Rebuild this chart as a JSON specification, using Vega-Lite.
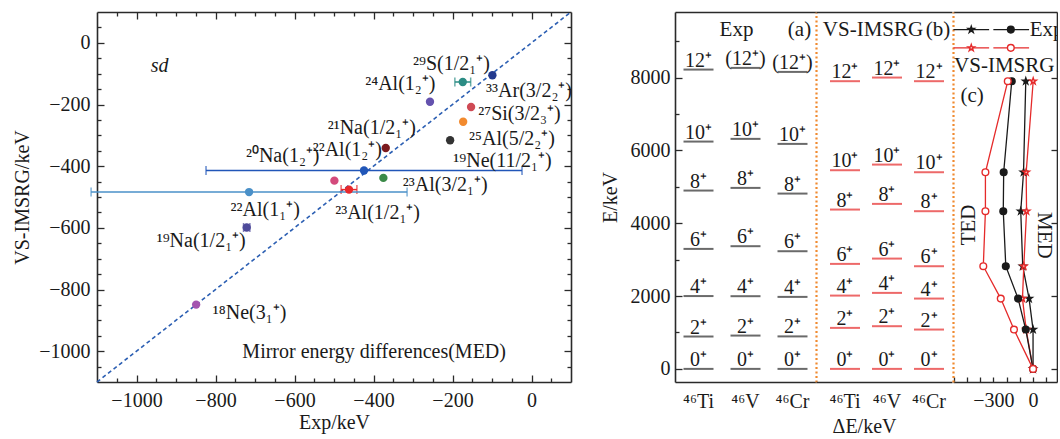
{
"$schema": "https://vega.github.io/schema/vega-lite/v6.json",
"padding": {"left": 12, "top": 8, "right": 0, "bottom": 0},
"spacing": 0,
"datasets": {
"med": [
{"id":"33Ar","x":-99,"y":-105,"err":0},
{"id":"29S","x":-174,"y":-127,"err":20},
{"id":"24Al","x":-257,"y":-191,"err":0},
{"id":"27Si","x":-153,"y":-208,"err":0},
{"id":"25Al","x":-173,"y":-256,"err":0},
{"id":"19Ne","x":-206,"y":-316,"err":0},
{"id":"21Na","x":-369,"y":-341,"err":0},
{"id":"20Na","x":-424,"y":-414,"err":400},
{"id":"23Al_3/2","x":-375,"y":-438,"err":0},
{"id":"22Al_12","x":-499,"y":-447,"err":0},
{"id":"22Al_11","x":-715,"y":-484,"err":400},
{"id":"23Al_1/2","x":-462,"y":-476,"err":20},
{"id":"19Na","x":-721,"y":-599,"err":8},
{"id":"18Ne","x":-849,"y":-849,"err":0}
],
"lab": [
{"t":"²⁹S(1/2₁⁺)","lx":-300,"ly":-70},
{"t":"²⁴Al(1₂⁺)","lx":-421,"ly":-135},
{"t":"³³Ar(3/2₂⁺)","lx":-115,"ly":-157},
{"t":"²⁷Si(3/2₃⁺)","lx":-135,"ly":-232},
{"t":"²¹Na(1/2₁⁺)","lx":-516,"ly":-276},
{"t":"²⁵Al(5/2₂⁺)","lx":-158,"ly":-311},
{"t":"²⁰Na(1₂⁺)","lx":-723,"ly":-368},
{"t":"²²Al(1₂⁺)","lx":-554,"ly":-346},
{"t":"¹⁹Ne(11/2₁⁺)","lx":-198,"ly":-384},
{"t":"²³Al(3/2₁⁺)","lx":-326,"ly":-460},
{"t":"²²Al(1₁⁺)","lx":-762,"ly":-541},
{"t":"²³Al(1/2₁⁺)","lx":-497,"ly":-551},
{"t":"¹⁹Na(1/2₁⁺)","lx":-949,"ly":-643},
{"t":"¹⁸Ne(3₁⁺)","lx":-807,"ly":-876}
],
"levels": [
{"calc":"Exp","nuc":"⁴⁶Ti","J":0,"E":0,"lab":"0⁺"},
{"calc":"Exp","nuc":"⁴⁶Ti","J":2,"E":889,"lab":"2⁺"},
{"calc":"Exp","nuc":"⁴⁶Ti","J":4,"E":2000,"lab":"4⁺"},
{"calc":"Exp","nuc":"⁴⁶Ti","J":6,"E":3295,"lab":"6⁺"},
{"calc":"Exp","nuc":"⁴⁶Ti","J":8,"E":4897,"lab":"8⁺"},
{"calc":"Exp","nuc":"⁴⁶Ti","J":10,"E":6242,"lab":"10⁺"},
{"calc":"Exp","nuc":"⁴⁶Ti","J":12,"E":8219,"lab":"12⁺"},
{"calc":"Exp","nuc":"⁴⁶V","J":0,"E":0,"lab":"0⁺"},
{"calc":"Exp","nuc":"⁴⁶V","J":2,"E":915,"lab":"2⁺"},
{"calc":"Exp","nuc":"⁴⁶V","J":4,"E":1996,"lab":"4⁺"},
{"calc":"Exp","nuc":"⁴⁶V","J":6,"E":3369,"lab":"6⁺"},
{"calc":"Exp","nuc":"⁴⁶V","J":8,"E":4970,"lab":"8⁺"},
{"calc":"Exp","nuc":"⁴⁶V","J":10,"E":6316,"lab":"10⁺"},
{"calc":"Exp","nuc":"⁴⁶V","J":12,"E":8265,"lab":"(12⁺)"},
{"calc":"Exp","nuc":"⁴⁶Cr","J":0,"E":0,"lab":"0⁺"},
{"calc":"Exp","nuc":"⁴⁶Cr","J":2,"E":892,"lab":"2⁺"},
{"calc":"Exp","nuc":"⁴⁶Cr","J":4,"E":1977,"lab":"4⁺"},
{"calc":"Exp","nuc":"⁴⁶Cr","J":6,"E":3231,"lab":"6⁺"},
{"calc":"Exp","nuc":"⁴⁶Cr","J":8,"E":4814,"lab":"8⁺"},
{"calc":"Exp","nuc":"⁴⁶Cr","J":10,"E":6178,"lab":"10⁺"},
{"calc":"Exp","nuc":"⁴⁶Cr","J":12,"E":8155,"lab":"(12⁺)"},
{"calc":"VS","nuc":"⁴⁶Ti","J":0,"E":0,"lab":"0⁺"},
{"calc":"VS","nuc":"⁴⁶Ti","J":2,"E":1126,"lab":"2⁺"},
{"calc":"VS","nuc":"⁴⁶Ti","J":4,"E":2013,"lab":"4⁺"},
{"calc":"VS","nuc":"⁴⁶Ti","J":6,"E":2883,"lab":"6⁺"},
{"calc":"VS","nuc":"⁴⁶Ti","J":8,"E":4375,"lab":"8⁺"},
{"calc":"VS","nuc":"⁴⁶Ti","J":10,"E":5455,"lab":"10⁺"},
{"calc":"VS","nuc":"⁴⁶Ti","J":12,"E":7900,"lab":"12⁺"},
{"calc":"VS","nuc":"⁴⁶V","J":0,"E":0,"lab":"0⁺"},
{"calc":"VS","nuc":"⁴⁶V","J":2,"E":1172,"lab":"2⁺"},
{"calc":"VS","nuc":"⁴⁶V","J":4,"E":2087,"lab":"4⁺"},
{"calc":"VS","nuc":"⁴⁶V","J":6,"E":3029,"lab":"6⁺"},
{"calc":"VS","nuc":"⁴⁶V","J":8,"E":4531,"lab":"8⁺"},
{"calc":"VS","nuc":"⁴⁶V","J":10,"E":5610,"lab":"10⁺"},
{"calc":"VS","nuc":"⁴⁶V","J":12,"E":8000,"lab":"12⁺"},
{"calc":"VS","nuc":"⁴⁶Cr","J":0,"E":0,"lab":"0⁺"},
{"calc":"VS","nuc":"⁴⁶Cr","J":2,"E":1080,"lab":"2⁺"},
{"calc":"VS","nuc":"⁴⁶Cr","J":4,"E":1931,"lab":"4⁺"},
{"calc":"VS","nuc":"⁴⁶Cr","J":6,"E":2819,"lab":"6⁺"},
{"calc":"VS","nuc":"⁴⁶Cr","J":8,"E":4330,"lab":"8⁺"},
{"calc":"VS","nuc":"⁴⁶Cr","J":10,"E":5400,"lab":"10⁺"},
{"calc":"VS","nuc":"⁴⁶Cr","J":12,"E":7900,"lab":"12⁺"}
],
"ced": [
{"series":"Exp MED","J":0,"E":0,"d":0},
{"series":"Exp MED","J":2,"E":1080,"d":0},
{"series":"Exp MED","J":4,"E":1930,"d":-30},
{"series":"Exp MED","J":6,"E":2820,"d":-78},
{"series":"Exp MED","J":8,"E":4330,"d":-93},
{"series":"Exp MED","J":10,"E":5400,"d":-72},
{"series":"Exp MED","J":12,"E":7900,"d":-55},
{"series":"VS MED","J":0,"E":0,"d":0},
{"series":"VS MED","J":2,"E":1080,"d":-52},
{"series":"VS MED","J":4,"E":1930,"d":-80},
{"series":"VS MED","J":6,"E":2820,"d":-70},
{"series":"VS MED","J":8,"E":4330,"d":-49},
{"series":"VS MED","J":10,"E":5400,"d":-52},
{"series":"VS MED","J":12,"E":7900,"d":1},
{"series":"Exp TED","J":0,"E":0,"d":0},
{"series":"Exp TED","J":2,"E":1080,"d":-55},
{"series":"Exp TED","J":4,"E":1930,"d":-113},
{"series":"Exp TED","J":6,"E":2820,"d":-206},
{"series":"Exp TED","J":8,"E":4330,"d":-225},
{"series":"Exp TED","J":10,"E":5400,"d":-222},
{"series":"Exp TED","J":12,"E":7900,"d":-161},
{"series":"VS TED","J":0,"E":0,"d":0},
{"series":"VS TED","J":2,"E":1080,"d":-144},
{"series":"VS TED","J":4,"E":1930,"d":-244},
{"series":"VS TED","J":6,"E":2820,"d":-376},
{"series":"VS TED","J":8,"E":4330,"d":-360},
{"series":"VS TED","J":10,"E":5400,"d":-360},
{"series":"VS TED","J":12,"E":7900,"d":-191}
],
"leg": [
{"series":"Exp MED","a":-602,"b":-332,"m":-467,"E":9317},
{"series":"Exp TED","a":-300,"b":-30,"m":-168,"E":9317},
{"series":"VS MED","a":-602,"b":-332,"m":-467,"E":8815},
{"series":"VS TED","a":-300,"b":-30,"m":-168,"E":8815}
]
},
"hconcat": [
{
"width": 474, "height": 370,
"layer": [
{
"data": {"values": [{"ex": -1100, "ey": -1100}, {"ex": 100, "ey": 100}]},
"mark": {"type": "line", "color": "#2c5fb3", "strokeDash": [4, 3], "strokeWidth": 1.6},
"encoding": {
"x": {"field": "ex", "type": "quantitative", "scale": {"domain": [-1100, 100], "nice": false, "zero": false},
"axis": {"orient": "bottom", "values": [-1000,-800,-600,-400,-200,0], "format": "d", "title": "Exp/keV", "tickSize": -7, "labelPadding": 15, "titlePadding": 2}},
"y": {"field": "ey", "type": "quantitative", "scale": {"domain": [-1100, 100], "nice": false, "zero": false},
"axis": {"orient": "left", "values": [-1000,-800,-600,-400,-200,0], "format": "d", "title": "VS-IMSRG/keV", "tickSize": -7, "labelPadding": 14, "titlePadding": 6}}
}
},
{
"data": {"name": "med"},
"transform": [{"filter": "datum.err > 0"}],
"mark": {"type": "errorbar", "ticks": true, "size": 9, "thickness": 1.5},
"encoding": {
"x": {"field": "x", "type": "quantitative", "axis": null},
"xError": {"field": "err"},
"y": {"field": "y", "type": "quantitative", "axis": null},
"color": {"field": "id", "type": "nominal", "legend": null,
"scale": {"domain": ["33Ar","29S","24Al","27Si","25Al","19Ne","21Na","20Na","23Al_3/2","22Al_12","22Al_11","23Al_1/2","19Na","18Ne"], "range": ["#233a8e","#2b8c84","#6452ae","#cf4a55","#f28a2e","#333333","#7b1a1e","#2156b8","#3b8a48","#d34a7c","#4a90c8","#e8282c","#4e4a9a","#a455b0"]}}
}
},
{
"data": {"name": "med"},
"mark": {"type": "circle", "size": 70, "opacity": 1},
"encoding": {
"x": {"field": "x", "type": "quantitative",
"axis": {"orient": "top", "values": [-1000,-800,-600,-400,-200,0], "labels": false, "title": null, "tickSize": -7}},
"y": {"field": "y", "type": "quantitative",
"axis": {"orient": "right", "values": [-1000,-800,-600,-400,-200,0], "labels": false, "title": " ", "titleFontSize": 28, "titlePadding": 0, "tickSize": -7}},
"color": {"field": "id", "type": "nominal", "legend": null}
}
},
{
"data": {"name": "lab"},
"mark": {"type": "text", "align": "left", "baseline": "middle", "fontSize": 20, "color": "#1a1a1a"},
"encoding": {
"x": {"field": "lx", "type": "quantitative",
"axis": {"orient": "bottom", "values": [-1050,-950,-900,-850,-750,-700,-650,-550,-500,-450,-350,-300,-250,-150,-100,-50,50], "labels": false, "domain": false, "title": null, "tickSize": -4}},
"y": {"field": "ly", "type": "quantitative",
"axis": {"orient": "left", "values": [-1050,-950,-900,-850,-750,-700,-650,-550,-500,-450,-350,-300,-250,-150,-100,-50,50], "labels": false, "domain": false, "title": null, "tickSize": -4}},
"text": {"field": "t"}
}
},
{
"data": {"values": [{}]},
"mark": {"type": "text", "align": "left", "baseline": "middle", "fontSize": 20, "fontStyle": "italic", "color": "#1a1a1a"},
"encoding": {
"x": {"datum": -964, "type": "quantitative",
"axis": {"orient": "top", "values": [-1050,-950,-900,-850,-750,-700,-650,-550,-500,-450,-350,-300,-250,-150,-100,-50,50], "labels": false, "domain": false, "title": null, "tickSize": -4}},
"y": {"datum": -76, "type": "quantitative",
"axis": {"orient": "right", "values": [-1050,-950,-900,-850,-750,-700,-650,-550,-500,-450,-350,-300,-250,-150,-100,-50,50], "labels": false, "domain": false, "title": null, "tickSize": -4}},
"text": {"value": "sd"}
}
},
{
"data": {"values": [{}]},
"mark": {"type": "text", "align": "left", "baseline": "middle", "fontSize": 20, "color": "#1a1a1a"},
"encoding": {
"x": {"datum": -732, "type": "quantitative", "axis": null},
"y": {"datum": -1002, "type": "quantitative", "axis": null},
"text": {"value": "Mirror energy differences(MED)"}
}
}
],
"resolve": {"axis": {"x": "independent", "y": "independent"}}
},
{
"width": 141, "height": 370,
"layer": [
{
"data": {"name": "levels"},
"transform": [{"filter": "datum.calc == 'Exp'"}],
"mark": {"type": "tick", "size": 30, "thickness": 2, "color": "#2b2b2b"},
"encoding": {
"x": {"field": "nuc", "type": "nominal", "sort": ["⁴⁶Ti","⁴⁶V","⁴⁶Cr"], "scale": {"domain": ["⁴⁶Ti","⁴⁶V","⁴⁶Cr"], "paddingInner": 0, "paddingOuter": 0},
"axis": {"orient": "bottom", "ticks": false, "labelAngle": 0, "labelPadding": 9, "title": null}},
"y": {"field": "E", "type": "quantitative", "scale": {"domain": [-360, 9800], "nice": false, "zero": false},
"axis": {"orient": "left", "values": [0,2000,4000,6000,8000], "format": "d", "title": "E/keV", "tickSize": -7, "labelPadding": 12, "titlePadding": 10}}
}
},
{
"data": {"name": "levels"},
"transform": [{"filter": "datum.calc == 'Exp'"}],
"mark": {"type": "text", "baseline": "alphabetic", "dy": -3, "fontSize": 20, "color": "#1a1a1a"},
"encoding": {
"x": {"field": "nuc", "type": "nominal", "axis": {"orient": "top", "ticks": false, "labels": false, "title": null}},
"y": {"field": "E", "type": "quantitative", "axis": {"orient": "left", "values": [1000,3000,5000,7000,9000], "labels": false, "domain": false, "title": null, "tickSize": -4}},
"text": {"field": "lab"}
}
},
{
"data": {"values": [{"nuc": "⁴⁶V", "E": 9309, "t": "Exp"}]},
"mark": {"type": "text", "baseline": "middle", "fontSize": 21, "dx": -9, "color": "#1a1a1a"},
"encoding": {
"x": {"field": "nuc", "type": "nominal", "axis": null},
"y": {"field": "E", "type": "quantitative", "axis": {"orient": "right", "ticks": false, "labels": false, "title": null, "domainColor": "#f08a30", "domainDash": [2, 2.5], "domainWidth": 2.2}},
"text": {"field": "t"}
}
},
{
"data": {"values": [{"nuc": "⁴⁶Cr", "E": 9309, "t": "(a)"}]},
"mark": {"type": "text", "baseline": "middle", "fontSize": 21, "dx": 7, "color": "#1a1a1a"},
"encoding": {
"x": {"field": "nuc", "type": "nominal", "axis": null},
"y": {"field": "E", "type": "quantitative", "axis": null},
"text": {"field": "t"}
}
}
],
"resolve": {"axis": {"x": "independent", "y": "independent"}}
},
{
"width": 136, "height": 370,
"layer": [
{
"data": {"name": "levels"},
"transform": [{"filter": "datum.calc == 'VS'"}],
"mark": {"type": "tick", "size": 30, "thickness": 2, "color": "#e52a2a"},
"encoding": {
"x": {"field": "nuc", "type": "nominal", "sort": ["⁴⁶Ti","⁴⁶V","⁴⁶Cr"], "scale": {"domain": ["⁴⁶Ti","⁴⁶V","⁴⁶Cr"], "paddingInner": 0, "paddingOuter": 0.119, "align": 0.8},
"axis": {"orient": "bottom", "ticks": false, "labelAngle": 0, "labelPadding": 9, "title": "ΔE/keV", "titleX": 48, "titleY": 34, "titleAlign": "center", "titleBaseline": "top"}},
"y": {"field": "E", "type": "quantitative", "scale": {"domain": [-360, 9800], "nice": false, "zero": false}, "axis": null}
}
},
{
"data": {"name": "levels"},
"transform": [{"filter": "datum.calc == 'VS'"}],
"mark": {"type": "text", "baseline": "alphabetic", "dy": -3, "fontSize": 20, "color": "#1a1a1a"},
"encoding": {
"x": {"field": "nuc", "type": "nominal", "axis": {"orient": "top", "ticks": false, "labels": false, "title": null}},
"y": {"field": "E", "type": "quantitative", "axis": null},
"text": {"field": "lab"}
}
},
{
"data": {"values": [{"nuc": "⁴⁶V", "E": 9309, "t": "VS-IMSRG"}]},
"mark": {"type": "text", "baseline": "middle", "fontSize": 21, "dx": -14, "color": "#1a1a1a"},
"encoding": {
"x": {"field": "nuc", "type": "nominal", "axis": null},
"y": {"field": "E", "type": "quantitative", "axis": null},
"text": {"field": "t"}
}
},
{
"data": {"values": [{"nuc": "⁴⁶Cr", "E": 9309, "t": "(b)"}]},
"mark": {"type": "text", "baseline": "middle", "fontSize": 21, "dx": 9, "color": "#1a1a1a"},
"encoding": {
"x": {"field": "nuc", "type": "nominal", "axis": null},
"y": {"field": "E", "type": "quantitative", "axis": null},
"text": {"field": "t"}
}
}
],
"resolve": {"axis": {"x": "independent"}}
},
{
"width": 104, "height": 370,
"layer": [
{
"data": {"name": "ced"},
"mark": {"type": "line", "strokeWidth": 1.3},
"encoding": {
"x": {"field": "d", "type": "quantitative", "scale": {"domain": [-605, 181], "nice": false, "zero": false},
"axis": {"orient": "bottom", "values": [-600,-500,-400,-300,-200,-100,0,100], "format": "d", "title": null, "tickSize": -5, "labelExpr": "datum.value == -300 || datum.value == 0 ? datum.label : ''", "labelPadding": 13}},
"y": {"field": "E", "type": "quantitative", "scale": {"domain": [-360, 9800], "nice": false, "zero": false},
"axis": {"orient": "right", "values": [0,2000,4000,6000,8000], "labels": false, "title": null, "tickSize": -6}},
"stroke": {"field": "series", "type": "nominal", "legend": null, "scale": {"domain": ["Exp MED","Exp TED","VS MED","VS TED"], "range": ["#1a1a1a","#1a1a1a","#e52a2a","#e52a2a"]}},
"order": {"field": "J", "type": "quantitative"}
}
},
{
"data": {"name": "ced"},
"mark": {"type": "point", "size": 45, "strokeWidth": 1.4, "filled": true, "opacity": 1},
"encoding": {
"x": {"field": "d", "type": "quantitative", "axis": {"orient": "top", "ticks": false, "labels": false, "title": null}},
"y": {"field": "E", "type": "quantitative", "axis": {"orient": "left", "ticks": false, "labels": false, "title": null, "domainColor": "#f08a30", "domainDash": [2, 2.5], "domainWidth": 2.2}},
"shape": {"field": "series", "type": "nominal", "legend": null, "scale": {"domain": ["Exp MED","Exp TED","VS MED","VS TED"], "range": ["M0,-1L0.2245,-0.309L0.951,-0.309L0.363,0.118L0.588,0.809L0,0.382L-0.588,0.809L-0.363,0.118L-0.951,-0.309L-0.2245,-0.309Z","circle","M0,-1L0.2245,-0.309L0.951,-0.309L0.363,0.118L0.588,0.809L0,0.382L-0.588,0.809L-0.363,0.118L-0.951,-0.309L-0.2245,-0.309Z","circle"]}},
"stroke": {"field": "series", "type": "nominal", "legend": null},
"fill": {"field": "series", "type": "nominal", "legend": null, "scale": {"domain": ["Exp MED","Exp TED","VS MED","VS TED"], "range": ["#1a1a1a","#1a1a1a","#ffffff","#ffffff"]}}
}
},
{
"data": {"name": "leg"},
"mark": {"type": "rule", "strokeWidth": 1.3},
"encoding": {
"x": {"field": "a", "type": "quantitative", "axis": null},
"x2": {"field": "b"},
"y": {"field": "E", "type": "quantitative", "axis": null},
"stroke": {"field": "series", "type": "nominal", "legend": null}
}
},
{
"data": {"name": "leg"},
"mark": {"type": "point", "size": 45, "strokeWidth": 1.4, "filled": true, "opacity": 1},
"encoding": {
"x": {"field": "m", "type": "quantitative", "axis": null},
"y": {"field": "E", "type": "quantitative", "axis": null},
"shape": {"field": "series", "type": "nominal", "legend": null},
"stroke": {"field": "series", "type": "nominal", "legend": null},
"fill": {"field": "series", "type": "nominal", "legend": null}
}
},
{
"data": {"values": [{"d": -25, "E": 9317, "t": "Exp"}]},
"mark": {"type": "text", "align": "left", "baseline": "middle", "fontSize": 21, "color": "#1a1a1a", "clip": true},
"encoding": {
"x": {"field": "d", "type": "quantitative", "axis": null},
"y": {"field": "E", "type": "quantitative", "axis": null},
"text": {"field": "t"}
}
},
{
"data": {"values": [{"d": -597, "E": 8312, "t": "VS-IMSRG"}]},
"mark": {"type": "text", "align": "left", "baseline": "middle", "fontSize": 21, "color": "#1a1a1a"},
"encoding": {
"x": {"field": "d", "type": "quantitative", "axis": null},
"y": {"field": "E", "type": "quantitative", "axis": null},
"text": {"field": "t"}
}
},
{
"data": {"values": [{"d": -461, "E": 7488, "t": "(c)"}]},
"mark": {"type": "text", "align": "center", "baseline": "middle", "fontSize": 21, "color": "#1a1a1a"},
"encoding": {
"x": {"field": "d", "type": "quantitative", "axis": null},
"y": {"field": "E", "type": "quantitative", "axis": null},
"text": {"field": "t"}
}
},
{
"data": {"values": [{"d": -484, "E": 3954, "t": "TED"}]},
"mark": {"type": "text", "align": "center", "baseline": "middle", "fontSize": 21, "angle": 270, "color": "#1a1a1a"},
"encoding": {
"x": {"field": "d", "type": "quantitative", "axis": null},
"y": {"field": "E", "type": "quantitative", "axis": null},
"text": {"field": "t"}
}
},
{
"data": {"values": [{"d": 83, "E": 3666, "t": "MED"}]},
"mark": {"type": "text", "align": "center", "baseline": "middle", "fontSize": 21, "angle": 90, "color": "#1a1a1a"},
"encoding": {
"x": {"field": "d", "type": "quantitative", "axis": null},
"y": {"field": "E", "type": "quantitative", "axis": null},
"text": {"field": "t"}
}
}
],
"resolve": {"axis": {"x": "independent", "y": "independent"}}
}
],
"config": {
"font": "Liberation Serif",
"view": {"stroke": null},
"axis": {"grid": false, "domainColor": "#2a2a2a", "tickColor": "#2a2a2a", "labelColor": "#1a1a1a", "titleColor": "#1a1a1a", "labelFont": "Liberation Serif", "titleFont": "Liberation Serif", "labelFontSize": 20, "titleFontSize": 20, "titleFontWeight": "normal", "domainWidth": 1.6, "tickWidth": 1.3, "labelFlush": false, "labelOverlap": false, "labelBound": false},
"text": {"font": "Liberation Serif"}
}
}
